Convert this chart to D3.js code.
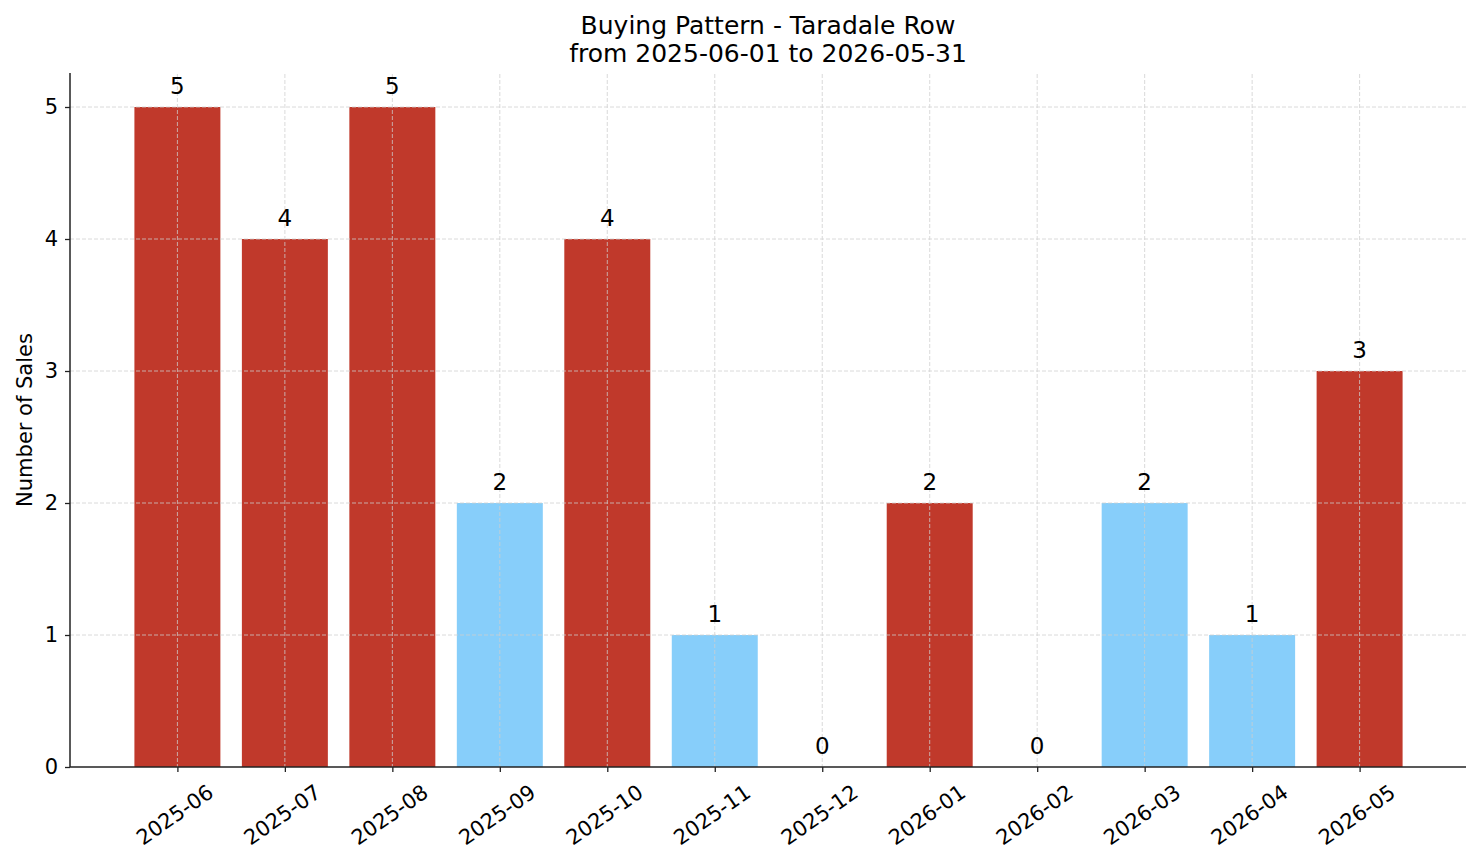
<!DOCTYPE html>
<html>
<head>
<meta charset="utf-8">
<script src="https://cdn.jsdelivr.net/npm/d3@7"></script>
<style>
  html, body { margin: 0; padding: 0; background: #fff; }
  svg { display: block; font-family: "DejaVu Sans", sans-serif; }
</style>
</head>
<body>
<svg id="chart" width="1481" height="863"></svg>
<script>
const months = ["2025-06","2025-07","2025-08","2025-09","2025-10","2025-11","2025-12","2026-01","2026-02","2026-03","2026-04","2026-05"];
const sales = [5, 4, 5, 2, 4, 1, 0, 2, 0, 2, 1, 3];
const barGroup = ["red","red","red","blue","red","blue","red","red","red","blue","blue","red"];
const yTicks = [0, 1, 2, 3, 4, 5];
const titleLines = ["Buying Pattern - Taradale Row", "from 2025-06-01 to 2026-05-31"];
const yLabel = "Number of Sales";

const svg = d3.select("#chart");
const W = 1481, H = 863;
const x0 = 71, x1 = 1466;
const y0 = 767, y1 = 74;

const n = months.length;
const x = d3.scaleLinear().domain([-0.99, n - 1 + 0.99]).range([x0, x1]);
const barW = x(0.8) - x(0);
const y = d3.scaleLinear().domain([0, 5.25]).range([y0, y1]);
const color = d3.scaleOrdinal().domain(["red","blue"]).range(["#c0392b", "#87cefa"]);

// bars
svg.append("g").selectAll("rect").data(sales).join("rect")
  .attr("x", (d, i) => x(i) - barW / 2)
  .attr("width", barW)
  .attr("y", d => y(d))
  .attr("height", d => y(0) - y(d))
  .attr("fill", (d, i) => color(barGroup[i]));

// grid
const grid = svg.append("g").attr("stroke", "#cfcfcf").attr("stroke-width", 0.9)
  .attr("stroke-dasharray", "4,2").attr("opacity", 0.85);
grid.selectAll("line.h").data(yTicks.filter(t => t > 0)).join("line")
  .attr("x1", 70).attr("x2", x1)
  .attr("y1", d => y(d)).attr("y2", d => y(d));
grid.selectAll("line.v").data(months).join("line")
  .attr("x1", (d, i) => x(i)).attr("x2", (d, i) => x(i))
  .attr("y1", y1).attr("y2", y0);

// axes
const yAxis = d3.axisLeft(y).tickValues(yTicks).tickFormat(d3.format("d")).tickSize(5).tickPadding(7);
const gy = svg.append("g").attr("transform", `translate(70,0)`).call(yAxis);
gy.select(".domain").attr("stroke", "#222").attr("stroke-width", 1.5).attr("d", `M0,${y1 - 1}V${y0}`);
gy.selectAll(".tick line").attr("stroke", "#222").attr("stroke-width", 1.3);
gy.selectAll(".tick text").attr("font-size", 21).attr("fill", "#000")
  .attr("font-family", "DejaVu Sans");

const xAxis = d3.axisBottom(x).tickValues(d3.range(n)).tickFormat(i => months[i]).tickSize(5);
const gx = svg.append("g").attr("transform", `translate(0,${y0})`).call(xAxis);
gx.select(".domain").attr("stroke", "#222").attr("stroke-width", 1.5).attr("d", `M70,0H${x1}`);
gx.selectAll(".tick line").attr("stroke", "#222").attr("stroke-width", 1.3);
gx.selectAll(".tick text")
  .attr("font-size", 21).attr("fill", "#000").attr("font-family", "DejaVu Sans")
  .attr("text-anchor", "middle").attr("dy", null).attr("y", null)
  .attr("dominant-baseline", "central")
  .attr("transform", "translate(-3,48) rotate(-35)");

// value labels
svg.append("g").selectAll("text").data(sales).join("text")
  .attr("x", (d, i) => x(i))
  .attr("y", d => y(d) - 13)
  .attr("text-anchor", "middle")
  .attr("font-size", 23)
  .attr("fill", "#000")
  .text(d => d);

// title
svg.append("g").selectAll("text").data(titleLines).join("text")
  .attr("x", 768)
  .attr("y", (d, i) => 34 + i * 28)
  .attr("text-anchor", "middle")
  .attr("font-size", 25)
  .attr("fill", "#000")
  .text(d => d);

// y label
svg.append("text")
  .attr("transform", `translate(32,420) rotate(-90)`)
  .attr("text-anchor", "middle")
  .attr("font-size", 21)
  .attr("fill", "#000")
  .text(yLabel);
</script>
</body>
</html>
